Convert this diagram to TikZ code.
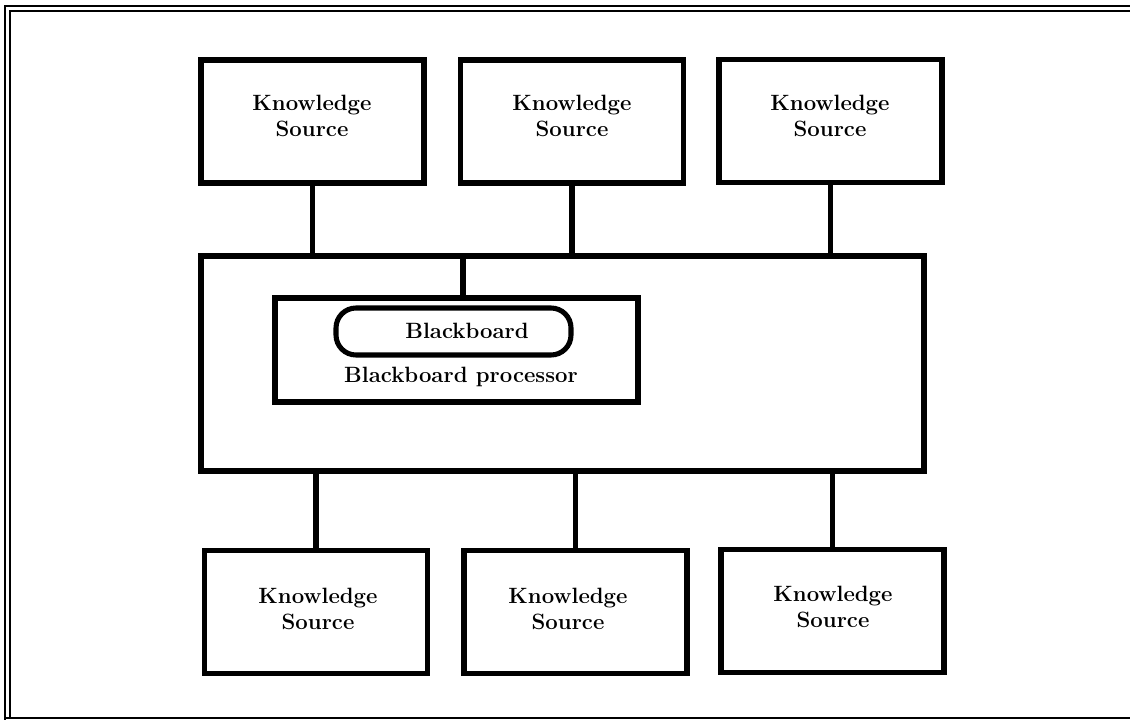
\documentclass[tikz,border=0pt]{standalone}
\begin{document}
\begin{tikzpicture}[x=0.75pt,y=-0.75pt,
  ksbox/.style={draw, line width=4.4pt, inner sep=0pt, outer sep=0pt, minimum width=167.25pt, minimum height=92.25pt},
  lbl/.style={font=\fontsize{16.6}{19.5}\selectfont\bfseries, align=center, inner sep=0pt},
  conn/.style={line width=4.4pt},
  frame/.style={line width=1.3pt}]
\useasboundingbox (0,0) rectangle (1130,720);
% outer frame
\coordinate (f1) at (5,720);
\coordinate (f2) at (5,6);
\coordinate (f3) at (1130,6);
\coordinate (g1) at (10,718);
\coordinate (g2) at (10,11);
\coordinate (g3) at (1130,11);
\coordinate (h1) at (5,718);
\coordinate (h2) at (1130,718);
\draw[frame] (f1) -- (f2) -- (f3);
\draw[frame] (g1) -- (g2) -- (g3);
\draw[frame] (h1) -- (h2);
% big box
\node[draw, line width=4.4pt, inner sep=0pt, outer sep=0pt, minimum width=542.25pt, minimum height=161.25pt] (big) at (562.5,363.5) {};
% inner processor box
\node[draw, line width=4.2pt, inner sep=0pt, outer sep=0pt, minimum width=272.25pt, minimum height=78pt] (proc) at (456.5,350) {};
% blackboard pill
\node[draw, line width=3.8pt, rounded corners=15pt, inner sep=0pt, outer sep=0pt, minimum width=176.25pt, minimum height=35.25pt] (bb) at (453.5,331.5) {};
\node[lbl] (bbt) at (467,331) {Blackboard};
\node[lbl] (proct) at (461,377) {Blackboard processor};
% top knowledge sources
\node[ksbox] (ks1) at (312.5,121.5) {};
\node[ksbox] (ks2) at (572,121.5) {};
\node[ksbox] (ks3) at (830.5,121) {};
\node[lbl] (ks1t) at (312,116) {Knowledge\\Source};
\node[lbl] (ks2t) at (572,116) {Knowledge\\Source};
\node[lbl] (ks3t) at (830,116) {Knowledge\\Source};
% bottom knowledge sources
\node[ksbox] (ks4) at (316,612) {};
\node[ksbox] (ks5) at (575.5,612) {};
\node[ksbox] (ks6) at (832.5,611) {};
\node[lbl] (ks4t) at (318,609) {Knowledge\\Source};
\node[lbl] (ks5t) at (568,609) {Knowledge\\Source};
\node[lbl] (ks6t) at (833,607) {Knowledge\\Source};
% connectors
\draw[conn] (ks1.south) -- (ks1.south |- big.north);
\draw[conn] (ks2.south) -- (ks2.south |- big.north);
\draw[conn] (ks3.south) -- (ks3.south |- big.north);
\coordinate (tap) at (463,256);
\draw[conn] (tap) -- (tap |- proc.north);
\draw[conn] (big.south -| ks4.north) -- (ks4.north);
\draw[conn] (big.south -| ks5.north) -- (ks5.north);
\draw[conn] (big.south -| ks6.north) -- (ks6.north);
\end{tikzpicture}
\end{document}
